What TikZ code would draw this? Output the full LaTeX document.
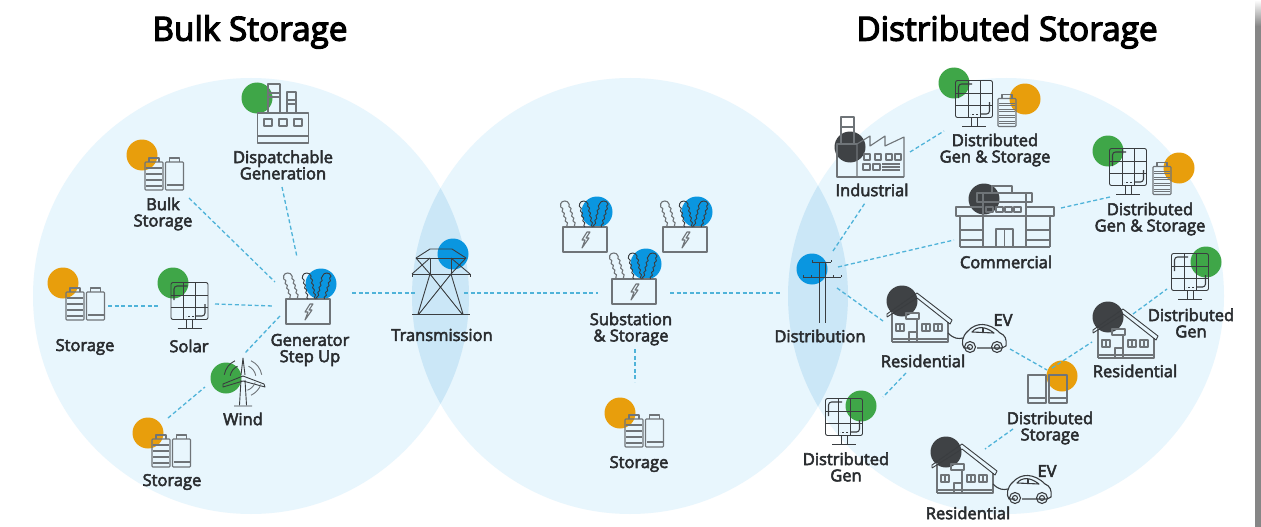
\documentclass[tikz,border=0pt]{standalone}
\usepackage{fontspec}
\setmainfont{Open Sans}[FakeBold=3.2]
\newfontfamily\titlefont{Open Sans}[FakeBold=3.6]
\usetikzlibrary{decorations.pathmorphing}
\definecolor{disc}{HTML}{E8F6FD}
\definecolor{lens}{HTML}{CBE7F7}
\definecolor{gree}{HTML}{3FA648}
\definecolor{oran}{HTML}{E89E0C}
\definecolor{blu}{HTML}{0A96E0}
\definecolor{dark}{HTML}{3F4245}
\definecolor{ink}{HTML}{3A3D40}
\definecolor{soft}{HTML}{6F7478}
\definecolor{dashc}{HTML}{4FB3D9}
\definecolor{txt}{HTML}{2A2D30}
\newcommand{\leafshape}[3]{% colour style, base x, top x
  \draw[#1,decorate,decoration={snake,amplitude=.8pt,segment length=5pt}] (#2-4,0) -- (#3-4.5,-23);
  \draw[#1,decorate,decoration={snake,amplitude=.8pt,segment length=5pt}] (#2+3.5,0) -- (#3+4,-23);
  \draw[#1] (#3-4.5,-23) .. controls (#3-3.5,-27) and (#3+3,-27) .. (#3+4,-23);
}
\tikzset{
  x=1pt,y=-1pt,
  big/.style={fill=disc,draw=none},
  dot/.style={circle,minimum size=31pt,inner sep=0pt,draw=none,fill=#1},
  link/.style={draw=dashc,line width=1.3pt,dash pattern=on 4pt off 2.6pt},
  lab/.style={font=\fontsize{16.5pt}{16.3pt}\selectfont,text=txt,align=center,inner sep=0pt},
  head/.style={font=\titlefont\fontsize{33.3pt}{34pt}\selectfont,text=black,inner sep=0pt},
  ic/.style={draw=ink,line width=.9pt,line join=round,fill=none},
  ics/.style={draw=soft,line width=1.1pt,line join=round,fill=none},
  pics/battfull/.style={code={
    \draw[ics,rounded corners=.8pt] (-9,-12) rectangle (9,16);
    \draw[ics] (-5,-12) -- (-5,-16) -- (5,-16) -- (5,-12);
    \foreach \yy in {-7,-1,5,11}{\draw[ics,line width=.8pt] (-8,\yy) -- (8,\yy);\draw[ics,line width=.8pt] (-8,\yy+1.5) -- (8,\yy+1.5);}
  }},
  pics/battempty/.style={code={
    \draw[ics,rounded corners=.8pt] (-9,-12) rectangle (9,16);
    \draw[ics] (-5,-12) -- (-5,-16) -- (5,-16) -- (5,-12);
    \draw[ics] (-8,11) -- (8,11);
  }},
  pics/battpair/.style={code={
    \pic at (-10,0) {battfull};
    \pic at (10.5,0) {battempty};
  }},
  pics/tallbatt/.style={code={
    \draw[ics] (-9,-14) rectangle (9,14);
    \draw[ics,line width=1.6pt] (-8,9) -- (8,9);
    \draw[ics,line width=1pt] (-8,13) -- (8,13);
  }},
  pics/panel/.style={code={
    \draw[ic,rounded corners=2pt] (-18.5,-18.5) rectangle (18.5,18.5);
    \draw[ic] (-6,-18.5) -- (-6,18.5) (6,-18.5) -- (6,18.5);
    \draw[ic] (-18.5,-6) -- (18.5,-6) (-18.5,6.5) -- (18.5,6.5);
    \draw[ic,rounded corners=3pt,line width=1.1pt] (-15.5,-1) -- (-15.5,-15) -- (-2,-15);
    \draw[ic,rounded corners=3pt,line width=1.1pt] (15.5,3) -- (15.5,15) -- (6,15);
    \draw[ic,dash pattern=on 2pt off 2pt] (4,15) -- (-4,15);
    \draw[ic] (-3,18.5) -- (-3,27) (3,18.5) -- (3,27) (-12,27) -- (12,27);
  }},
  pics/xformer/.style={code={
    \draw[ics] (-22,0) -- (-22,25) -- (22,25) -- (22,0) -- cycle;
    \leafshape{ics}{-13}{-20}
    \leafshape{ic}{4}{-1}
    \leafshape{ic}{13}{19}
    \draw[ics] (2,5) -- (-3,13) -- (0,13) -- (-3,21) -- (4,11) -- (1,11) -- (5,5) -- cycle;
  }},
  pics/tower/.style={code={
    \draw[ic] (-29,65) -- (29,65);
    \draw[ic] (-11,25) -- (-23,65) (10,25) -- (22,65) (-11,25) -- (21,65) (10,25) -- (-22,65);
    \draw[ic] (-11,9) -- (-11,25) (10,9) -- (10,25);
    \draw[ic] (-29,25) -- (29,25) (-29,25) -- (-29,28) (29,25) -- (29,28);
    \draw[ic] (-25,9) -- (25,9);
    \draw[ic] (-25,9) -- (-11,0) -- (11,0) -- (25,9);
    \draw[ic] (-29,25) -- (-11,9) (29,25) -- (10,9) (-25,9) -- (-11,25) (25,9) -- (10,25);
  }},
  pics/pole/.style={code={
    \draw[ic] (-3,0) -- (-3,61) (3,0) -- (3,61);
    \draw[ic] (-10,0) -- (9,0) (-10,0) -- (-10,-2) (9,0) -- (9,-2);
    \draw[ic] (-19,15) -- (19,15) (-19,15) -- (-19,13) (19,15) -- (19,13) (-11,15) -- (-11,13) (11,15) -- (11,13);
  }},
  pics/stackplant/.style={code={
    \draw[ics] (-25.5,0) rectangle (25.5,30);
    \draw[ics] (-25.5,23) -- (25.5,23);
    \foreach \xx in {-19,-4,11}{\draw[ics] (\xx,6) rectangle (\xx+8,13);}
    \draw[ics] (-15,0) -- (-15,-29) -- (-3,-29) -- (-3,0);
    \draw[ics] (-15,-20) -- (-3,-20) (-15,-16) -- (-3,-16);
    \draw[ics] (4,0) -- (4,-21) -- (13,-21) -- (13,0);
    \draw[ics] (4,-13) -- (13,-13) (4,-9) -- (13,-9);
  }},
  pics/factory/.style={code={
    \draw[ics] (20,-33) -- (0,-33) -- (0,0) -- (67,0);
    \draw[ics] (20,0) -- (20,-33) -- (33,-41) -- (33,-31) -- (48,-41) -- (48,-31) -- (67,-40) -- (67,0);
    \draw[ics] (4,-33) -- (4,-60) -- (17,-60) -- (17,-33);
    \draw[ics] (5,-50) -- (16,-50);
    \foreach \xx in {27,38,49,58}{\draw[ics] (\xx,-23) rectangle (\xx+6,-17);}
    \draw[ics] (26,-13) rectangle (33,-7) (36,-13) rectangle (43,-7);
    \draw[ics] (45,-13) -- (63,-13) (45,-10) -- (63,-10) (45,-7) -- (63,-7);
  }},
  pics/shop/.style={code={
    \draw[ics] (-45,0) -- (-45,-31) (45,0) -- (45,-31) (-45,0) -- (45,0);
    \draw[ics] (-22,-40) -- (-49,-40) -- (-49,-31) -- (-22,-31);
    \draw[ics] (21,-40) -- (49,-40) -- (49,-31) -- (21,-31);
    \draw[ics] (-22,-31) -- (21,-31);
    \draw[ics] (-22,0) -- (-22,-54) (21,0) -- (21,-54);
    \draw[ics] (-28,-54) rectangle (27,-45);
    \draw[ics] (-13,-54) -- (-13,-61) -- (7,-61) -- (7,-54);
    \foreach \xx in {-19,-9,0,9}{\draw[ics] (\xx,-40) rectangle (\xx+7,-35);}
    \draw[ics] (-9,0) rectangle (8,-18) (-.5,0) -- (-.5,-18);
    \draw[ics] (-45,-17) -- (-22,-17) (-45,-7) -- (-22,-7) (21,-17) -- (45,-17) (21,-7) -- (45,-7);
  }},
  pics/house/.style={code={
    \draw[ics] (0,0) -- (56,0) -- (56,-20) (0,0) -- (0,-30);
    \draw[ics] (0,-3) -- (56,-3);
    \draw[ic] (-5,-25) -- (-5,-28) -- (25,-49) -- (60,-22) -- (58,-18) -- (25,-44) -- (-5,-25);
    \draw[ics] (4,-18) rectangle (12,-11) (8,-18) -- (8,-11);
    \draw[ics] (30,-18) rectangle (38,-11) (34,-18) -- (34,-11);
    \draw[ics] (42,-18) rectangle (50,-11) (46,-18) -- (46,-11);
    \draw[ics] (17,0) -- (17,-10) -- (25,-10) -- (25,0);
    \draw[ics] (14,-29) rectangle (27,-23) (25,-23) -- (25,-10);
  }},
  pics/car/.style={code={
    \draw[ics,draw=ink] (56,-9) .. controls (62,-3) and (66,-3) .. (71,-4);
    \draw[ics,draw=ink] (78,6) -- (72,6) .. controls (69,2) and (70,-6) .. (76,-11)
       .. controls (84,-20) and (97,-20) .. (108,-9) .. controls (113,-7) and (115,-3) .. (114,4) -- (110,6) -- (85,6);
    \draw[ics,draw=ink] (80,-10) .. controls (85,-16) and (93,-16) .. (102,-9) -- cycle;
    \draw[ics,draw=ink] (91,-14) -- (91,-9);
    \draw[ics,draw=ink] (78,5) circle (5.5) (78,5) circle (2.5);
    \draw[ics,draw=ink] (105,5) circle (5.5) (105,5) circle (2.5);
  }},
  pics/turbine/.style={code={
    \draw[ic] (-2,2) -- (-3.5,27) (2,2) -- (3.5,27) (-9,28) -- (9,28);
    \draw[ic] (-2,-3) -- (0,-20) -- (2,-3);
    \draw[ic] (0,-2) -- (-20,6) -- (-20,9) -- (0,3);
    \draw[ic] (0,-2) -- (21,6) -- (22,9) -- (0,3);
    \draw[ic,draw=soft] (-65:13) arc[start angle=-65,end angle=-10,radius=13];
    \draw[ic,draw=soft] (-65:19) arc[start angle=-65,end angle=-10,radius=19];
    \draw[ic,draw=soft] (20:13) arc[start angle=20,end angle=70,radius=13];
    \draw[ic,draw=soft] (20:19) arc[start angle=20,end angle=65,radius=19];
    \draw[ic] (-115:13) arc[start angle=-115,end angle=-170,radius=13];
    \draw[ic] (-115:19) arc[start angle=-115,end angle=-170,radius=19];
  }},
}
\begin{document}
\begin{tikzpicture}
\useasboundingbox (0,0) rectangle (1261,527);
\fill[white] (0,0) rectangle (1261,527);
% gray page edge
\shade[top color=white,bottom color=gray!95] (1255,0) rectangle (1261,26);
\fill[gray!95] (1255,26) rectangle (1261,527);
% big discs
\path[big] (251,296) circle[radius=218];
\path[big] (630,296) circle[radius=218];
\path[big] (1006,296) circle[radius=218];
\begin{scope}
\clip (251,296) circle[radius=218];
\fill[lens] (630,296) circle[radius=218];
\end{scope}
\begin{scope}
\clip (630,296) circle[radius=218];
\fill[lens] (1006,296) circle[radius=218];
\end{scope}
% titles
\node[head] (ttlA) at (250,32) {Bulk Storage};
\node[head] (ttlB) at (1007,32) {Distributed Storage};
% coloured dots
\node[dot=gree] (dDisp) at (257,98) {};
\node[dot=oran] (dBulk) at (142,155) {};
\node[dot=oran] (dStoA) at (63,283) {};
\node[dot=gree] (dSolar) at (173,283) {};
\node[dot=blu] (dGen) at (321,284) {};
\node[dot=gree] (dWind) at (226,378) {};
\node[dot=oran] (dStoB) at (148,433) {};
\node[dot=blu] (dTrans) at (453,254) {};
\node[dot=blu] (dSubA) at (597,212) {};
\node[dot=blu] (dSubB) at (697,212) {};
\node[dot=blu] (dSubC) at (646,264) {};
\node[dot=oran] (dStoC) at (620,413) {};
\node[dot=gree] (dDgsG) at (954,83) {};
\node[dot=oran] (dDgsO) at (1025,99) {};
\node[dot=dark] (dInd) at (850,147) {};
\node[dot=dark] (dCom) at (984,199) {};
\node[dot=blu] (dDist) at (812,269) {};
\node[dot=dark] (dResA) at (902,301) {};
\node[dot=gree] (dDg) at (861,406) {};
\node[dot=oran] (dDs) at (1062,376) {};
\node[dot=dark] (dResC) at (946,452) {};
\node[dot=dark] (dResB) at (1108,317) {};
\node[dot=gree] (dDgB) at (1206,262) {};
\node[dot=gree] (dDgsBG) at (1108,151) {};
\node[dot=oran] (dDgsBO) at (1179,168) {};
% icons
\pic at (283,113) {stackplant};
\pic at (164,174) {battpair};
\pic at (85,304) {battpair};
\pic at (171,451) {battpair};
\pic at (644,431) {battpair};
\pic at (189.5,301) {panel};
\pic at (974,99) {panel};
\pic at (1128,167) {panel};
\pic at (844,417) {panel};
\pic at (1190,272) {panel};
\pic at (1007,110.5) {battfull};
\pic at (1162,178.5) {battfull};
\pic at (1037,389) {tallbatt};
\pic at (1058,389) {tallbatt};
\pic at (308,299) {xformer};
\pic at (585,227) {xformer};
\pic at (685,227) {xformer};
\pic at (634,279) {xformer};
\pic at (441,249) {tower};
\pic at (822,262) {pole};
\pic at (837,177) {factory};
\pic at (1005,247) {shop};
\pic at (892,342) {house};
\pic at (892,342) {car};
\pic at (937,493) {house};
\pic at (937,493) {car};
\pic at (1098,358) {house};
\pic at (243,378) {turbine};
% connector ends
\coordinate (a1) at (189,198);\coordinate (a2) at (275,282);
\coordinate (b1) at (282,187);\coordinate (b2) at (297,257);
\coordinate (c1) at (108,306);\coordinate (c2) at (158,306);
\coordinate (d1) at (215,304);\coordinate (d2) at (273,306);
\coordinate (e1) at (280,316);\coordinate (e2) at (245,353);
\coordinate (f1) at (168,418);\coordinate (f2) at (205,387);
\coordinate (g1) at (352,293);\coordinate (g2) at (417,293);
\coordinate (h1) at (464,293);\coordinate (h2) at (598,293);
\coordinate (i1) at (670,293);\coordinate (i2) at (782,293);
\coordinate (j1) at (635,349);\coordinate (j2) at (635,382);
\coordinate (k1) at (833,251);\coordinate (k2) at (865,203);
\coordinate (l1) at (910,152);\coordinate (l2) at (944,131);
\coordinate (m1) at (838,267);\coordinate (m2) at (954,240);
\coordinate (n1) at (837,288);\coordinate (n2) at (883,321);
\coordinate (o1) at (906,373);\coordinate (o2) at (883,397);
\coordinate (p1) at (1010,349);\coordinate (p2) at (1047,370);
\coordinate (q1) at (1013,429);\coordinate (q2) at (985,449);
\coordinate (r1) at (1052,368);\coordinate (r2) at (1092,342);
\coordinate (s1) at (1061,208);\coordinate (s2) at (1110,197);
\coordinate (t1) at (1133,314);\coordinate (t2) at (1167,289);
\foreach \u/\v in {a1/a2,b1/b2,c1/c2,d1/d2,e1/e2,f1/f2,g1/g2,h1/h2,i1/i2,j1/j2,k1/k2,l1/l2,m1/m2,n1/n2,o1/o2,p1/p2,q1/q2,r1/r2,s1/s2,t1/t2}
  \draw[link] (\u) -- (\v);
% labels
\node[lab] (t1n) at (283,165) {Dispatchable\\Generation};
\node[lab] (t2n) at (163,214) {Bulk\\Storage};
\node[lab] (t3n) at (85,347) {Storage};
\node[lab] (t4n) at (189,346) {Solar};
\node[lab] (t5n) at (310,350) {Generator\\Step Up};
\node[lab] (t6n) at (243,419) {Wind};
\node[lab] (t7n) at (172,482) {Storage};
\node[lab] (t8n) at (442,335) {Transmission};
\node[lab] (t9n) at (631,329) {Substation\\\& Storage};
\node[lab] (t10n) at (639,464) {Storage};
\node[lab] (t11n) at (820,336) {Distribution};
\node[lab] (t12n) at (872,190) {Industrial};
\node[lab] (t13n) at (995,150) {Distributed\\Gen \& Storage};
\node[lab] (t14n) at (1006,262) {Commercial};
\node[lab] (t15n) at (923,361) {Residential};
\node[lab] (t16n) at (1003,320) {EV};
\node[lab] (t17n) at (846,467) {Distributed\\Gen};
\node[lab] (t18n) at (1050,428) {Distributed\\Storage};
\node[lab] (t19n) at (968,513) {Residential};
\node[lab] (t20n) at (1047,471) {EV};
\node[lab] (t21n) at (1135,371) {Residential};
\node[lab] (t22n) at (1191,323) {Distributed\\Gen};
\node[lab] (t23n) at (1150,219) {Distributed\\Gen \& Storage};
\end{tikzpicture}
\end{document}
